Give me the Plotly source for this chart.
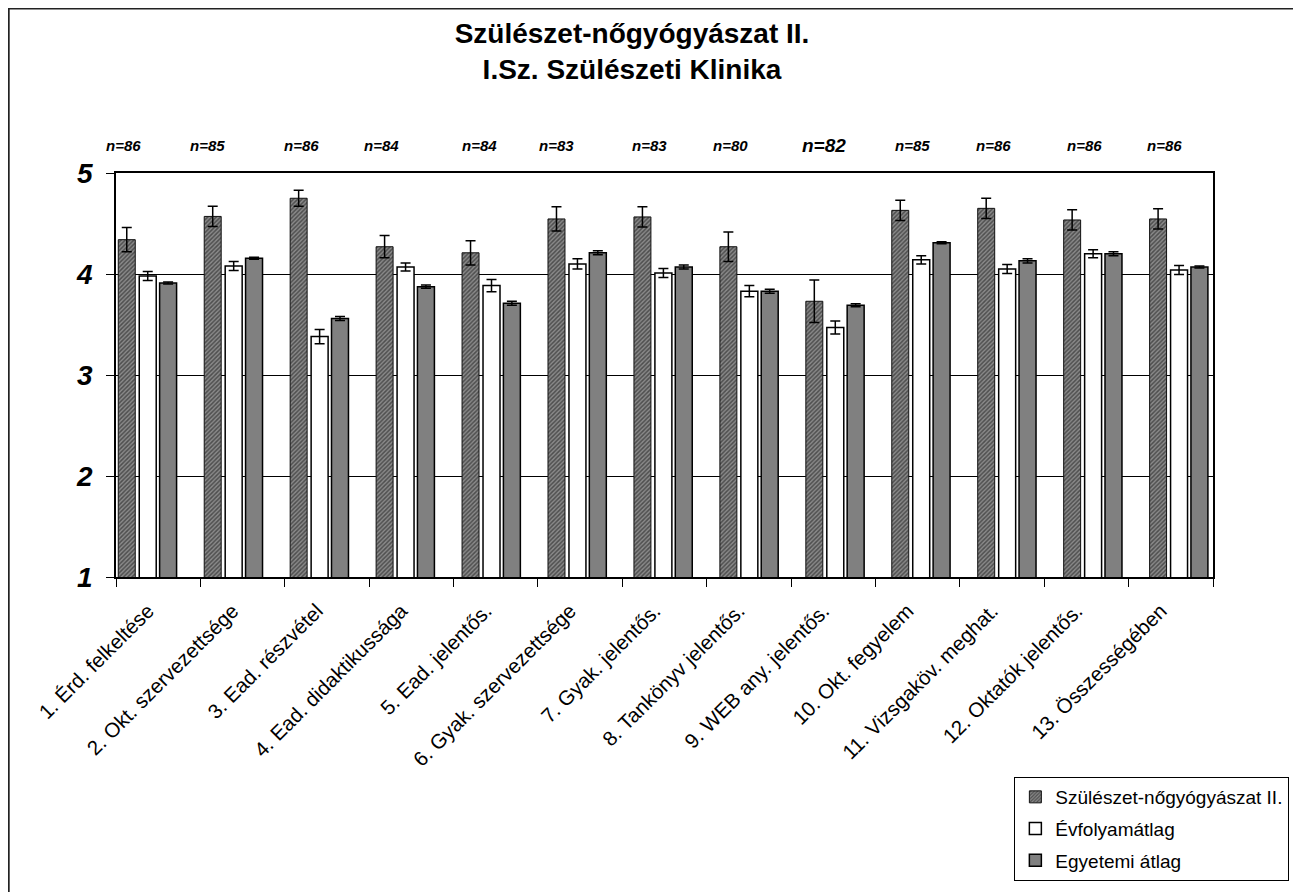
import plotly.graph_objects as go

# ---------------- data ----------------
categories = [
    "1. Érd. felkeltése", "2. Okt. szervezettsége", "3. Ead. részvétel",
    "4. Ead. didaktikussága", "5. Ead. jelentős.", "6. Gyak. szervezettsége",
    "7. Gyak. jelentős.", "8. Tankönyv jelentős.", "9. WEB any. jelentős.",
    "10. Okt. fegyelem", "11. Vizsgaköv. meghat.", "12. Oktatók jelentős.",
    "13. Összességében",
]
series_names = ["Szülészet-nőgyógyászat II.", "Évfolyamátlag", "Egyetemi átlag"]
szul = [4.34, 4.57, 4.75, 4.27, 4.21, 4.545, 4.565, 4.27, 3.73, 4.63, 4.65, 4.535, 4.545]
szul_err = [0.12, 0.10, 0.08, 0.11, 0.12, 0.12, 0.10, 0.145, 0.21, 0.10, 0.10, 0.10, 0.10]
evf = [3.98, 4.08, 3.38, 4.07, 3.885, 4.10, 4.01, 3.83, 3.47, 4.14, 4.05, 4.20, 4.04]
evf_err = [0.045, 0.045, 0.07, 0.04, 0.06, 0.05, 0.045, 0.055, 0.065, 0.04, 0.045, 0.04, 0.045]
egy = [3.91, 4.155, 3.56, 3.875, 3.71, 4.21, 4.07, 3.83, 3.69, 4.31, 4.13, 4.20, 4.07]
egy_err = [0.01, 0.01, 0.02, 0.015, 0.02, 0.02, 0.02, 0.02, 0.015, 0.01, 0.02, 0.02, 0.01]
n_values = [86, 85, 86, 84, 84, 83, 83, 80, 82, 85, 86, 86, 86]
y_ticks = [1, 2, 3, 4, 5]

# ---------------- layout geometry (page pixels) ----------------
OFF = 8                      # default body margin of the html page
W, H = 1301 - OFF, 893 - OFF  # figure size that fits the window
L, R, T, B = 116, 1215, 173, 577   # plot area in page pixels


def px_x(p):
    return (p - L) / (R - L)


def px_y(p):
    return (B - p) / (B - T)


FONT = "Arial, 'Liberation Sans', sans-serif"

# bar axis: group spacing slightly wider than the label axis (as in the original)
bar_range = [-0.3635, 12.4007]
bar_width = 0.1975
bar_offsets = [-0.337, -0.093, 0.144]
n_shift = [-24, -26, -18, -24, -12, -20, -13, -18, -11, -8, -13, -8, -14]
n_size = [15, 15, 15, 15, 15, 15, 15, 15, 19, 15, 15, 15, 15]

fig = go.Figure()

styles = [
    dict(color="#8a8a8a", line=dict(color="#111", width=1),
         pattern=dict(shape="/", fgcolor="#111", bgcolor="#8a8a8a", size=3, solidity=0.5)),
    dict(color="white", line=dict(color="#000", width=1.5)),
    dict(color="#808080", line=dict(color="#000", width=1.5)),
]
vals = [szul, evf, egy]
errs = [szul_err, evf_err, egy_err]

for i in range(3):
    fig.add_trace(go.Bar(
        x=categories, y=vals[i], name=series_names[i],
        width=bar_width, offset=bar_offsets[i],
        marker=styles[i],
        error_y=dict(type="data", array=errs[i], color="black", thickness=1.5, width=5),
        legendgroup=f"g{i}", xaxis="x", yaxis="y",
    ))

# invisible trace that carries the category label axis
fig.add_trace(go.Scatter(
    x=categories, y=[1] * len(categories), mode="markers",
    marker=dict(opacity=0), showlegend=False, hoverinfo="skip",
    xaxis="x2", yaxis="y",
))

# n labels
for i, cat in enumerate(categories):
    fig.add_annotation(
        x=cat, xref="x", y=px_y(146), yref="paper",
        text=f"n={n_values[i]}", showarrow=False, xshift=n_shift[i],
        font=dict(family=FONT, size=n_size[i], color="black", style="italic", weight="bold"),
        yanchor="middle", xanchor="center",
    )

# outer frame (left, top, right edges; bottom runs off the page)
fx0, fx1 = px_x(8.5), px_x(1297.5)
fy0, fy1 = px_y(892), px_y(8.5)
fig.add_shape(type="path", xref="paper", yref="paper",
              path=f"M {fx0},{fy0} L {fx0},{fy1} L {fx1},{fy1} L {fx1},{fy0}",
              line=dict(color="#222", width=2), layer="above")

fig.update_layout(
    width=W, height=H,
    margin=dict(l=L - OFF, r=W + OFF - R, t=T - OFF, b=H + OFF - B, pad=0),
    paper_bgcolor="white", plot_bgcolor="white",
    barmode="overlay",
    font=dict(family=FONT, color="black"),
    title=dict(
        text="Szülészet-nőgyógyászat II.<br>I.Sz. Szülészeti Klinika",
        x=(632 - OFF) / W, xanchor="center", xref="container",
        y=1 - (43 - OFF) / H, yanchor="top", yref="container",
        font=dict(family=FONT, size=28, weight="bold", color="black"),
    ),
    xaxis=dict(type="category", range=bar_range, visible=False, fixedrange=True),
    xaxis2=dict(
        type="category", overlaying="x", range=[-0.5, len(categories) - 0.5],
        tickson="boundaries", ticks="outside", ticklen=8, tickcolor="black", tickwidth=1,
        showline=True, linecolor="black", linewidth=1.5, mirror=True,
        tickangle=-45, tickfont=dict(family=FONT, size=20.5, color="black"),
        ticklabelstandoff=12, ticklabelshift=-10,
        showgrid=False, side="bottom",
    ),
    yaxis=dict(
        range=[1, 5], tickvals=y_ticks, ticks="outside", ticklen=8, tickcolor="black",
        showline=True, linecolor="black", linewidth=1.5, mirror=True,
        showgrid=True, gridcolor="black", gridwidth=1, zeroline=False,
        tickfont=dict(family=FONT, size=28, color="black", style="italic", weight="bold"),
        ticklabelstandoff=8,
    ),
    legend=dict(
        x=px_x(1016), y=px_y(777), xanchor="left", yanchor="top",
        bordercolor="black", borderwidth=1, bgcolor="white",
        font=dict(family=FONT, size=19, color="black"),
        traceorder="grouped", tracegroupgap=4,
    ),
    showlegend=True,
)

fig.write_html("out.html")
